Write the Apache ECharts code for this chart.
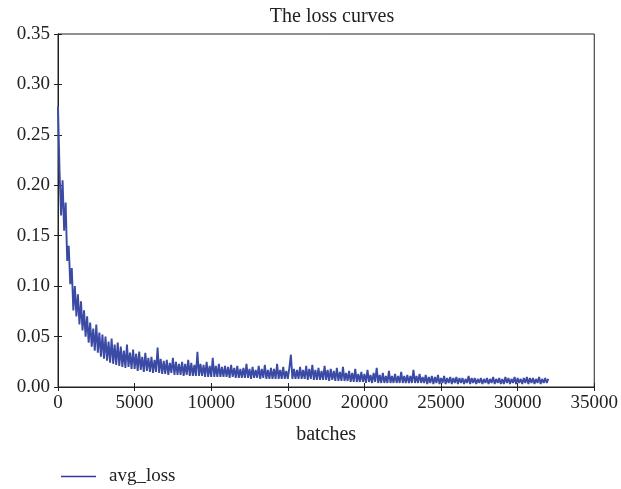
<!DOCTYPE html>
<html>
<head>
<meta charset="utf-8">
<script src="https://cdn.jsdelivr.net/npm/echarts@6/dist/echarts.min.js"></script>
<style>
  html, body { margin: 0; padding: 0; background: #fff; }
  #loss { width: 621px; height: 489px; }
</style>
</head>
<body>
<div id="loss"></div>
<script type="text/javascript">
// one loss value every 100 batches, 0 .. 32000
var batchStep = 100;
var avgLoss = [
  0.278, 0.215, 0.17, 0.205, 0.155, 0.183, 0.125, 0.14, 0.102, 0.118,
  0.076, 0.1, 0.07, 0.092, 0.062, 0.085, 0.056, 0.076, 0.05, 0.07,
  0.044, 0.064, 0.04, 0.058, 0.036, 0.062, 0.034, 0.054, 0.03, 0.052,
  0.028, 0.05, 0.026, 0.045, 0.024, 0.048, 0.023, 0.042, 0.022, 0.044,
  0.021, 0.04, 0.02, 0.036, 0.019, 0.042, 0.02, 0.034, 0.018, 0.037,
  0.018, 0.033, 0.016, 0.035, 0.017, 0.03, 0.015, 0.034, 0.016, 0.029,
  0.015, 0.03, 0.014, 0.027, 0.015, 0.039, 0.014, 0.028, 0.013, 0.026,
  0.013, 0.027, 0.012, 0.024, 0.014, 0.029, 0.012, 0.025, 0.012, 0.023,
  0.012, 0.025, 0.011, 0.023, 0.012, 0.027, 0.011, 0.024, 0.011, 0.022,
  0.011, 0.035, 0.011, 0.023, 0.011, 0.022, 0.01, 0.025, 0.01, 0.021,
  0.01, 0.029, 0.01, 0.021, 0.01, 0.023, 0.01, 0.02, 0.01, 0.021,
  0.01, 0.02, 0.009, 0.022, 0.01, 0.019, 0.009, 0.021, 0.009, 0.018,
  0.009, 0.019, 0.009, 0.023, 0.009, 0.018, 0.008, 0.02, 0.009, 0.017,
  0.009, 0.021, 0.008, 0.018, 0.009, 0.022, 0.008, 0.017, 0.008, 0.019,
  0.008, 0.018, 0.008, 0.023, 0.008, 0.017, 0.008, 0.02, 0.008, 0.016,
  0.008, 0.019, 0.032, 0.008, 0.018, 0.008, 0.017, 0.008, 0.02, 0.008,
  0.017, 0.008, 0.021, 0.007, 0.018, 0.008, 0.022, 0.007, 0.017, 0.007,
  0.019, 0.007, 0.016, 0.007, 0.021, 0.007, 0.017, 0.006, 0.018, 0.007,
  0.016, 0.006, 0.019, 0.006, 0.015, 0.006, 0.02, 0.006, 0.014, 0.006,
  0.016, 0.005, 0.014, 0.005, 0.018, 0.005, 0.013, 0.005, 0.015, 0.005,
  0.013, 0.004, 0.017, 0.005, 0.012, 0.004, 0.014, 0.005, 0.019, 0.004,
  0.012, 0.004, 0.014, 0.004, 0.011, 0.004, 0.016, 0.004, 0.011, 0.004,
  0.013, 0.004, 0.011, 0.004, 0.015, 0.004, 0.011, 0.004, 0.012, 0.004,
  0.011, 0.004, 0.017, 0.004, 0.011, 0.004, 0.013, 0.004, 0.01, 0.004,
  0.012, 0.003, 0.01, 0.004, 0.011, 0.003, 0.01, 0.004, 0.012, 0.003,
  0.009, 0.004, 0.011, 0.003, 0.009, 0.004, 0.01, 0.003, 0.009, 0.004,
  0.01, 0.003, 0.009, 0.004, 0.009, 0.003, 0.008, 0.004, 0.011, 0.003,
  0.009, 0.004, 0.009, 0.003, 0.008, 0.004, 0.009, 0.003, 0.008, 0.004,
  0.009, 0.003, 0.008, 0.004, 0.01, 0.003, 0.008, 0.004, 0.009, 0.003,
  0.008, 0.003, 0.01, 0.004, 0.009, 0.003, 0.008, 0.004, 0.01, 0.003,
  0.009, 0.004, 0.008, 0.003, 0.009, 0.004, 0.01, 0.003, 0.009, 0.004,
  0.009, 0.003, 0.008, 0.004, 0.01, 0.003, 0.008, 0.004, 0.009, 0.004,
  0.008
];
var xTicks = [0, 5000, 10000, 15000, 20000, 25000, 30000, 35000];
var yTicks = [0, 0.05, 0.10, 0.15, 0.20, 0.25, 0.30, 0.35];

var points = [];
for (var i = 0; i < avgLoss.length; i++) {
    points.push([i * batchStep, avgLoss[i]]);
}

var serif = '"Liberation Serif", "DejaVu Serif", serif';
var ink = '#222';
var lineBlue = '#3b4aa5';
var lossChart = echarts.init(document.getElementById('loss'));

var option = {
    animation: false,
    backgroundColor: '#fff',
    title: {
        text: 'The loss curves',
        left: 327,
        textAlign: 'center',
        top: 2,
        textStyle: { fontFamily: serif, fontSize: 20, fontWeight: 'normal', color: ink }
    },
    legend: {
        left: 56,
        top: 462,
        itemWidth: 35,
        itemHeight: 1.5,
        textStyle: { fontFamily: serif, fontSize: 19, color: ink, padding: [0, 0, 0, 8] },
        itemStyle: { color: '#2f3c9f' },
        data: [{ name: 'avg_loss', icon: 'rect' }]
    },
    grid: {
        left: 58, right: 24, top: 34, bottom: 102,
        show: true, borderColor: ink, borderWidth: 1
    },
    xAxis: [{
        type: 'value',
        min: xTicks[0],
        max: xTicks[xTicks.length - 1],
        interval: 5000,
        name: 'batches',
        nameLocation: 'middle',
        nameGap: 38,
        nameTextStyle: { fontFamily: serif, fontSize: 20, color: ink },
        axisLine: { show: true, lineStyle: { color: ink } },
        axisTick: { inside: true, length: 4, lineStyle: { color: ink } },
        axisLabel: {
            fontFamily: serif, fontSize: 19, color: ink, margin: 7,
            formatter: function (v) { return String(v); }
        },
        splitLine: { show: false }
    }, {
        type: 'value',
        position: 'top',
        min: xTicks[0],
        max: xTicks[xTicks.length - 1],
        interval: 5000,
        axisLine: { show: true, lineStyle: { color: ink } },
        axisTick: { inside: true, length: 4, lineStyle: { color: ink } },
        axisLabel: { show: false },
        splitLine: { show: false }
    }],
    yAxis: [{
        type: 'value',
        min: yTicks[0],
        max: yTicks[yTicks.length - 1],
        interval: 0.05,
        axisLine: { show: true, lineStyle: { color: ink } },
        axisTick: { show: true, inside: true, length: 4, lineStyle: { color: ink } },
        axisLabel: {
            fontFamily: serif, fontSize: 19, color: ink, margin: 8,
            formatter: function (v) { return v.toFixed(2); }
        },
        splitLine: { show: false }
    }, {
        type: 'value',
        position: 'right',
        min: yTicks[0],
        max: yTicks[yTicks.length - 1],
        interval: 0.05,
        axisLine: { show: true, lineStyle: { color: ink } },
        axisTick: { show: true, inside: true, length: 4, lineStyle: { color: ink } },
        axisLabel: { show: false },
        splitLine: { show: false }
    }],
    series: [{
        name: 'avg_loss',
        type: 'line',
        xAxisIndex: 0,
        yAxisIndex: 0,
        symbol: 'none',
        color: lineBlue,
        lineStyle: { width: 1.9, color: lineBlue },
        data: points
    }]
};
lossChart.setOption(option);
</script>
</body>
</html>
